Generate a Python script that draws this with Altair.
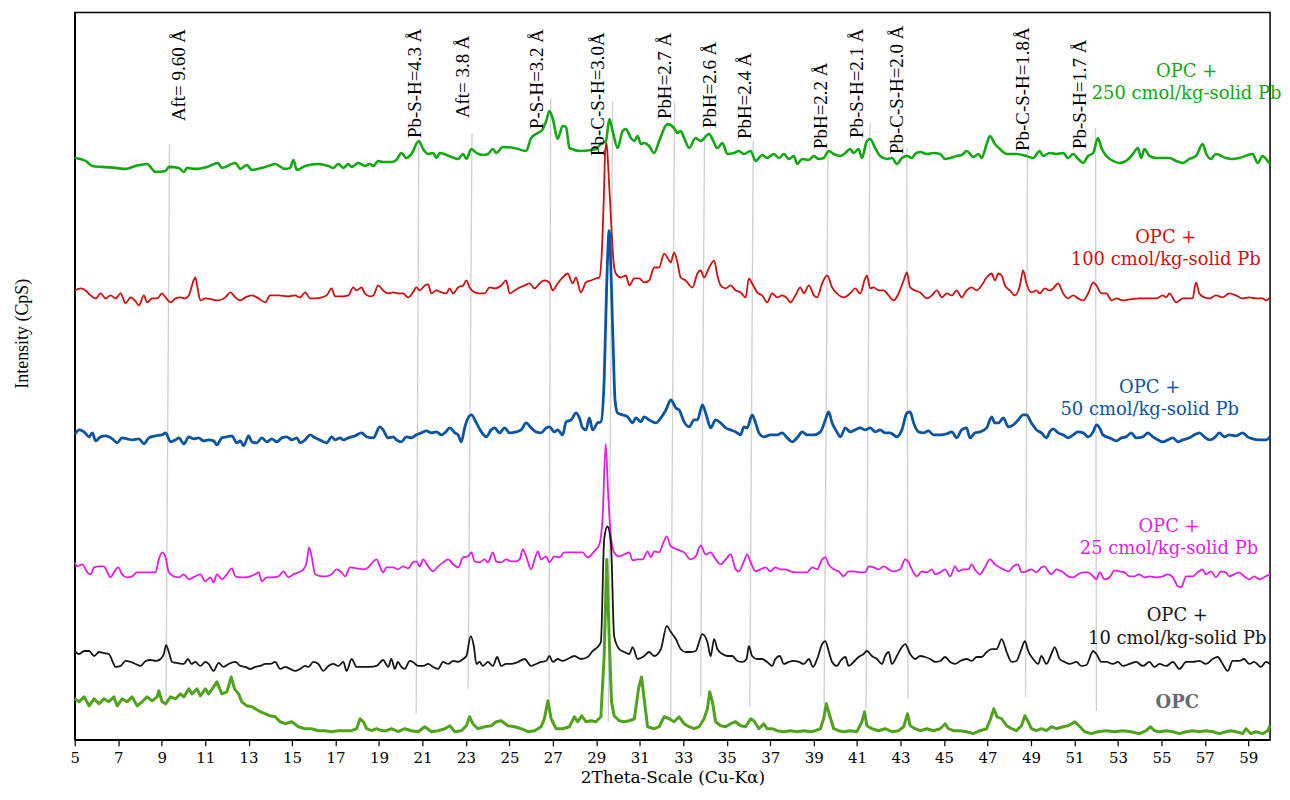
import altair as alt
import pandas as pd

SERIES = ["OPC + 250 cmol/kg-solid Pb", "OPC + 100 cmol/kg-solid Pb", "OPC + 50 cmol/kg-solid Pb",
          "OPC + 25 cmol/kg-solid Pb", "OPC + 10 cmol/kg-solid Pb", "OPC"]
COLORS = ["#12a812", "#cf1010", "#0b53a3", "#df1fdf", "#151515", "#4fa31c"]
WIDTHS = [2.6, 1.8, 2.8, 1.8, 1.8, 3.0]

# (2theta, intensity of the stacked trace)
PB250 = [(5.00,584),(5.50,581),(5.81,576),(6.27,575),(6.88,574),(7.34,573),(7.80,576),(8.33,578),(8.72,570),
 (9.18,571),(9.33,575),(9.79,574),(10.02,570),(10.17,574),(10.55,573),(11.09,575),(11.59,579),(11.77,574),
 (12.39,579),(12.62,573),(12.92,577),(13.15,572),(13.77,575),(14.22,578),(14.68,573),(14.91,574),(15.06,582),
 (15.22,572),(15.60,576),(16.21,578),(16.67,576),(16.90,574),(17.13,578),(17.36,574),(17.59,578),(17.74,575),
 (18.05,579),(18.35,576),(18.58,578),(18.74,576),(18.96,581),(19.19,580),(19.57,580),(19.80,582),(20.03,589),
 (20.26,584),(20.49,588),(20.83,601),(21.03,593),(21.26,588),(21.49,589),(21.64,584),(21.80,589),(22.33,585),
 (22.64,583),(22.87,588),(23.02,583),(23.25,593),(23.48,589),(23.78,587),(24.01,588),(24.24,593),(24.39,589),
 (24.70,595),(25.24,594),(25.77,591),(26.00,604),(26.31,609),(26.54,613),(26.69,621),(26.84,631),(27.00,623),
 (27.22,603),(27.45,616),(27.61,615),(27.76,594),(28.29,591),(28.75,592),(28.98,593),(29.21,598),(29.44,601),
 (29.60,623),(29.75,611),(29.98,594),(30.21,611),(30.36,613),(30.59,604),(30.75,601),(30.90,606),(31.05,598),
 (31.20,599),(31.43,596),(31.66,589),(31.89,601),(32.27,618),(32.58,614),(32.73,609),(32.88,611),(33.04,604),
 (33.27,594),(33.57,604),(33.80,601),(34.19,608),(34.34,603),(34.57,594),(34.80,599),(35.03,588),(35.33,589),
 (35.56,591),(35.79,588),(36.10,591),(36.33,581),(36.63,587),(36.86,584),(37.17,588),(37.40,584),(37.63,588),
 (37.86,583),(38.09,586),(38.24,578),(38.47,583),(38.78,582),(39.01,586),(39.23,583),(39.46,584),(39.69,591),
 (39.92,588),(40.23,586),(40.46,589),(40.68,593),(40.84,589),(41.07,593),(41.22,584),(41.45,601),(41.60,603),
 (41.83,594),(42.06,586),(42.37,583),(42.60,584),(42.83,578),(43.06,584),(43.29,586),(43.52,584),(43.67,588),
 (43.90,590),(44.21,588),(44.51,589),(44.82,588),(45.05,583),(45.28,584),(45.58,586),(45.81,587),(46.04,591),
 (46.35,585),(46.58,588),(46.73,584),(46.96,598),(47.11,606),(47.34,598),(47.57,593),(47.88,588),(48.33,588),
 (48.79,586),(49.10,584),(49.40,591),(49.56,586),(49.86,589),(50.17,588),(50.48,589),(50.71,584),(50.94,588),
 (51.17,583),(51.40,579),(51.63,586),(51.86,589),(52.08,604),(52.24,594),(52.47,586),(52.77,581),(53.07,579),
 (53.38,581),(53.69,588),(53.92,594),(54.07,584),(54.22,593),(54.45,586),(54.76,584),(55.37,584),(55.68,581),
 (55.98,579),(56.29,583),(56.59,586),(56.90,598),(57.05,589),(57.28,583),(57.51,588),(57.97,584),(58.28,583),
 (58.58,584),(59.20,588),(59.43,579),(59.66,586),(59.89,581),(60.00,578)]

PB100 = [(5.00,451),(5.28,453),(5.50,451),(5.73,446),(5.96,443),(6.19,448),(6.42,443),(6.65,446),(6.88,443),
 (7.11,448),(7.34,438),(7.57,444),(7.80,440),(7.95,436),(8.18,446),(8.33,439),(8.56,443),(8.79,443),(9.02,448),
 (9.18,444),(9.41,439),(9.64,443),(9.86,444),(10.06,443),(10.25,446),(10.47,461),(10.55,464),(10.67,451),
 (10.78,441),(11.01,443),(11.31,442),(11.62,441),(11.93,444),(12.16,449),(12.39,444),(12.62,441),(12.85,444),
 (13.15,446),(13.46,443),(13.77,439),(13.99,446),(14.38,446),(14.83,445),(15.14,446),(15.37,444),(15.60,449),
 (15.83,443),(16.06,443),(16.36,444),(16.59,446),(16.82,453),(16.98,445),(17.28,445),(17.59,446),(17.82,454),
 (17.97,451),(18.20,454),(18.35,448),(18.58,445),(18.74,446),(18.96,456),(19.19,451),(19.42,448),(19.65,449),
 (19.87,448),(20.10,448),(20.34,444),(20.56,449),(20.72,454),(20.88,451),(21.11,456),(21.26,457),(21.41,448),
 (21.64,451),(21.87,449),(22.10,448),(22.25,453),(22.41,448),(22.64,454),(22.87,456),(23.02,461),(23.17,454),
 (23.40,449),(23.63,448),(23.86,448),(24.09,454),(24.32,453),(24.62,456),(24.85,461),(25.01,448),(25.24,451),
 (25.47,454),(25.70,456),(25.93,458),(26.16,453),(26.39,458),(26.61,461),(26.84,459),(27.00,451),(27.22,458),
 (27.45,464),(27.68,468),(27.91,458),(28.06,464),(28.29,449),(28.52,459),(28.75,461),(28.98,463),(29.14,464),
 (29.24,484),(29.34,541),(29.41,591),(29.47,599),(29.55,574),(29.67,524),(29.80,478),(29.90,468),(30.13,464),
 (30.36,466),(30.52,456),(30.75,463),(30.98,463),(31.20,459),(31.43,461),(31.66,474),(31.89,474),(32.12,488),
 (32.27,484),(32.42,479),(32.58,489),(32.73,479),(32.88,464),(33.11,461),(33.42,454),(33.65,468),(33.80,471),
 (33.96,464),(34.19,474),(34.42,481),(34.57,466),(34.72,456),(34.95,453),(35.18,456),(35.41,451),(35.64,449),
 (35.87,444),(36.02,463),(36.17,458),(36.40,449),(36.63,446),(36.86,439),(37.09,448),(37.32,444),(37.55,446),
 (37.78,443),(37.93,439),(38.16,446),(38.39,454),(38.55,448),(38.78,456),(39.01,446),(39.16,444),(39.39,458),
 (39.62,466),(39.85,454),(40.07,448),(40.38,444),(40.68,448),(40.91,453),(41.14,448),(41.37,463),(41.45,466),
 (41.60,453),(41.76,454),(41.99,451),(42.22,451),(42.45,446),(42.68,441),(42.91,448),(43.14,461),(43.29,469),
 (43.44,454),(43.67,451),(43.90,449),(44.21,443),(44.44,446),(44.67,451),(44.90,444),(45.13,448),(45.36,446),
 (45.58,451),(45.81,444),(46.04,451),(46.27,454),(46.50,451),(46.73,456),(46.96,464),(47.19,468),(47.34,461),
 (47.50,468),(47.65,466),(47.80,456),(48.03,451),(48.26,446),(48.49,456),(48.64,471),(48.79,458),(49.02,449),
 (49.25,451),(49.40,448),(49.63,453),(49.86,451),(50.02,453),(50.25,458),(50.48,448),(50.71,443),(50.94,446),
 (51.17,443),(51.40,441),(51.63,448),(51.86,459),(52.01,456),(52.24,448),(52.47,448),(52.70,441),(52.93,443),
 (53.23,441),(53.54,442),(54.00,443),(54.45,443),(54.76,443),(55.07,446),(55.22,444),(55.37,448),(55.68,439),
 (55.98,443),(56.44,443),(56.59,459),(56.75,448),(56.98,444),(57.21,443),(57.51,446),(57.82,444),(58.12,448),
 (58.43,446),(58.73,443),(59.04,444),(59.35,443),(59.66,443),(59.81,441),(60.00,444)]

PB50 = [(5.00,306),(5.20,311),(5.43,309),(5.66,304),(5.81,308),(5.96,300),(6.19,304),(6.42,305),(6.73,302),
 (6.95,298),(7.18,303),(7.41,302),(7.64,301),(7.95,302),(8.18,297),(8.41,303),(8.72,305),(9.02,306),(9.18,308),
 (9.41,299),(9.64,301),(9.79,303),(10.02,297),(10.25,304),(10.47,302),(10.70,303),(10.93,300),(11.16,301),
 (11.39,300),(11.54,296),(11.77,303),(12.00,304),(12.23,305),(12.46,298),(12.62,300),(12.77,295),(13.00,305),
 (13.15,299),(13.38,298),(13.61,303),(13.84,299),(14.07,302),(14.30,299),(14.53,303),(14.76,304),(14.99,301),
 (15.22,303),(15.37,298),(15.60,301),(15.83,306),(16.06,303),(16.36,300),(16.59,298),(16.82,304),(16.98,301),
 (17.21,303),(17.36,301),(17.59,303),(17.90,305),(18.20,308),(18.43,304),(18.74,303),(19.04,314),(19.19,311),
 (19.42,303),(19.65,304),(19.80,301),(20.03,299),(20.26,304),(20.49,303),(20.72,306),(20.95,308),(21.18,310),
 (21.41,308),(21.64,309),(21.87,306),(22.03,308),(22.26,313),(22.49,308),(22.64,306),(22.79,299),(22.94,313),
 (23.10,323),(23.25,326),(23.48,318),(23.71,309),(23.94,304),(24.16,311),(24.32,313),(24.55,308),(24.78,313),
 (25.01,308),(25.31,309),(25.54,311),(25.77,318),(26.00,313),(26.23,309),(26.46,308),(26.69,313),(26.84,314),
 (27.07,309),(27.22,311),(27.45,306),(27.61,319),(27.84,321),(28.07,328),(28.22,323),(28.37,313),(28.52,311),
 (28.68,323),(28.83,311),(29.06,318),(29.21,319),(29.36,361),(29.47,451),(29.59,511),(29.70,451),(29.82,361),
 (29.86,341),(29.98,328),(30.21,326),(30.44,324),(30.67,318),(30.82,323),(31.05,319),(31.20,324),(31.43,321),
 (31.74,318),(31.97,323),(32.20,331),(32.43,341),(32.66,333),(32.81,331),(33.04,319),(33.27,314),(33.50,321),
 (33.65,321),(33.88,336),(34.03,328),(34.26,313),(34.49,321),(34.72,318),(34.95,313),(35.18,311),(35.41,309),
 (35.64,306),(35.79,314),(35.94,313),(36.17,326),(36.33,318),(36.48,308),(36.71,304),(37.01,306),(37.32,306),
 (37.55,308),(37.78,303),(38.01,299),(38.24,303),(38.47,309),(38.70,306),(39.01,306),(39.31,309),(39.54,321),
 (39.69,329),(39.85,318),(40.07,309),(40.23,304),(40.46,313),(40.68,309),(40.91,311),(41.14,313),(41.37,311),
 (41.60,313),(41.83,309),(42.06,311),(42.29,308),(42.52,308),(42.83,304),(43.06,311),(43.29,328),(43.44,329),
 (43.60,318),(43.83,309),(44.05,308),(44.28,310),(44.51,306),(44.82,306),(45.12,307),(45.36,309),(45.58,303),
 (45.81,311),(46.04,313),(46.19,303),(46.42,308),(46.65,309),(46.96,313),(47.19,324),(47.34,318),(47.50,318),
 (47.73,323),(47.96,314),(48.19,316),(48.41,321),(48.64,326),(48.79,326),(49.02,318),(49.25,311),(49.48,308),
 (49.71,303),(49.86,309),(50.02,312),(50.25,308),(50.48,306),(50.71,303),(50.94,306),(51.17,309),(51.40,308),
 (51.63,304),(51.86,309),(52.01,316),(52.16,313),(52.31,306),(52.62,303),(52.93,300),(53.16,303),(53.38,304),
 (53.61,308),(53.84,303),(54.15,304),(54.38,308),(54.61,304),(54.84,301),(55.07,299),(55.30,301),(55.53,303),
 (55.76,299),(55.98,301),(56.29,303),(56.52,306),(56.75,308),(56.98,304),(57.21,301),(57.44,303),(57.67,308),
 (57.90,304),(58.12,306),(58.43,305),(58.74,308),(58.97,304),(59.20,302),(59.51,301),(59.81,301),(60.00,304)]

PB25 = [(5.00,178),(5.12,174),(5.35,176),(5.58,168),(5.73,166),(5.89,173),(6.12,174),(6.34,174),(6.50,168),
 (6.65,163),(6.80,168),(7.00,173),(7.18,166),(7.41,163),(7.64,164),(7.87,168),(8.18,168),(8.49,168),(8.72,168),
 (8.87,181),(9.02,188),(9.18,183),(9.33,168),(9.56,164),(9.79,163),(10.02,166),(10.25,161),(10.55,164),
 (10.78,166),(11.01,159),(11.24,163),(11.39,158),(11.54,166),(11.77,161),(12.00,166),(12.23,172),(12.39,164),
 (12.62,163),(12.85,163),(13.08,164),(13.31,166),(13.46,168),(13.61,159),(13.84,163),(14.07,163),(14.38,164),
 (14.61,169),(14.83,163),(15.06,166),(15.29,168),(15.52,171),(15.67,178),(15.78,193),(15.90,184),(16.06,166),
 (16.36,164),(16.59,164),(16.82,166),(17.05,171),(17.28,168),(17.44,164),(17.67,173),(17.97,172),(18.28,171),
 (18.51,173),(18.74,179),(18.89,181),(19.04,174),(19.19,168),(19.35,173),(19.65,173),(19.87,171),(20.10,174),
 (20.34,172),(20.56,178),(20.72,179),(20.88,174),(21.03,181),(21.26,174),(21.49,169),(21.72,174),(21.95,178),
 (22.18,181),(22.41,176),(22.64,173),(22.87,183),(23.10,184),(23.25,188),(23.40,179),(23.63,178),(23.86,181),
 (24.01,178),(24.24,188),(24.39,179),(24.62,178),(24.85,181),(25.08,179),(25.31,179),(25.47,181),(25.62,191),
 (25.77,184),(26.00,171),(26.16,181),(26.31,189),(26.46,181),(26.69,184),(26.84,178),(27.07,184),(27.30,183),
 (27.53,188),(27.84,188),(28.14,188),(28.37,188),(28.60,183),(28.90,189),(29.14,196),(29.29,224),(29.43,297),
 (29.55,244),(29.67,204),(29.82,188),(30.05,184),(30.28,186),(30.52,188),(30.67,180),(30.90,181),(31.13,181),
 (31.36,189),(31.51,183),(31.66,189),(31.89,188),(32.09,198),(32.24,204),(32.43,194),(32.73,191),(33.04,188),
 (33.34,181),(33.57,184),(33.80,195),(34.03,186),(34.26,188),(34.49,181),(34.72,176),(34.95,181),(35.18,186),
 (35.41,171),(35.56,169),(35.79,179),(35.94,186),(36.10,178),(36.33,169),(36.56,171),(36.79,173),(37.01,169),
 (37.24,173),(37.47,171),(37.70,171),(37.93,169),(38.16,168),(38.47,168),(38.70,168),(38.93,173),(39.16,171),
 (39.39,181),(39.54,183),(39.69,176),(39.92,171),(40.15,169),(40.38,164),(40.61,169),(40.84,169),(41.14,168),
 (41.37,168),(41.53,174),(41.76,173),(41.99,171),(42.22,174),(42.45,171),(42.68,169),(42.98,171),(43.21,181),
 (43.37,178),(43.52,171),(43.75,164),(43.98,169),(44.21,168),(44.44,171),(44.59,166),(44.82,168),(45.05,171),
 (45.28,164),(45.51,174),(45.66,169),(45.89,171),(46.12,171),(46.27,176),(46.42,171),(46.65,166),(46.88,173),
 (47.11,181),(47.34,176),(47.73,171),(47.96,169),(48.19,174),(48.41,176),(48.56,168),(48.79,169),(49.02,171),
 (49.25,168),(49.48,173),(49.63,174),(49.79,169),(49.94,166),(50.17,171),(50.48,168),(50.71,164),(50.94,163),
 (51.17,166),(51.40,168),(51.63,168),(51.86,164),(52.01,161),(52.16,168),(52.39,161),(52.62,163),(52.85,170),
 (53.07,169),(53.30,168),(53.53,164),(53.76,164),(53.99,166),(54.22,163),(54.45,164),(54.76,163),(55.07,164),
 (55.30,166),(55.53,163),(55.76,154),(55.91,153),(56.14,164),(56.44,164),(56.67,168),(56.90,171),(57.05,166),
 (57.28,169),(57.51,163),(57.74,169),(57.97,168),(58.12,164),(58.35,166),(58.58,168),(58.81,164),(59.04,161),
 (59.27,164),(59.51,161),(59.81,164),(60.00,166)]

PB10 = [(5.00,89),(5.20,86),(5.43,89),(5.66,89),(5.89,84),(6.12,88),(6.34,87),(6.57,86),(6.73,79),(6.88,73),
 (7.11,74),(7.34,79),(7.57,78),(7.80,76),(8.03,74),(8.26,79),(8.49,80),(8.72,79),(8.95,81),(9.10,86),(9.20,95),
 (9.33,88),(9.48,78),(9.71,77),(10.02,76),(10.21,81),(10.37,76),(10.55,78),(10.78,74),(11.01,78),(11.16,76),
 (11.39,69),(11.62,77),(11.85,73),(12.08,76),(12.39,78),(12.62,74),(12.85,73),(13.08,71),(13.31,73),(13.54,74),
 (13.77,76),(13.99,76),(14.22,78),(14.45,71),(14.68,73),(14.91,71),(15.14,69),(15.37,71),(15.60,74),(15.75,73),
 (15.98,78),(16.21,76),(16.44,69),(16.67,74),(16.90,76),(17.13,74),(17.36,78),(17.51,69),(17.74,81),(17.97,73),
 (18.28,73),(18.58,73),(18.89,74),(19.19,80),(19.42,73),(19.57,81),(19.73,71),(19.87,78),(20.03,73),(20.18,71),
 (20.42,79),(20.56,78),(20.80,74),(21.03,74),(21.26,76),(21.49,73),(21.72,71),(21.95,78),(22.18,76),(22.41,79),
 (22.64,78),(22.87,81),(23.02,84),(23.22,104),(23.37,93),(23.48,76),(23.63,78),(23.78,74),(24.01,78),(24.24,74),
 (24.44,83),(24.62,74),(24.85,76),(25.08,76),(25.39,78),(25.70,81),(26.00,74),(26.23,76),(26.46,78),(26.69,79),
 (26.84,84),(27.00,78),(27.22,81),(27.45,79),(27.68,81),(27.99,84),(28.29,81),(28.60,83),(28.83,89),(29.06,93),
 (29.21,98),(29.36,201),(29.51,214),(29.67,198),(29.82,104),(30.05,91),(30.28,88),(30.52,86),(30.67,93),
 (30.90,81),(31.20,84),(31.43,88),(31.66,84),(31.97,91),(32.24,114),(32.43,108),(32.66,101),(32.88,91),
 (33.11,88),(33.34,88),(33.57,89),(33.88,106),(34.11,98),(34.26,84),(34.42,101),(34.57,91),(34.80,86),
 (35.03,84),(35.26,84),(35.49,79),(35.72,78),(35.91,81),(36.02,94),(36.17,84),(36.40,81),(36.63,81),(36.86,78),
 (37.09,74),(37.24,81),(37.44,84),(37.63,76),(37.86,78),(38.09,79),(38.32,78),(38.55,76),(38.78,81),(38.97,73),
 (39.16,81),(39.39,96),(39.54,99),(39.69,89),(39.85,78),(40.07,74),(40.23,79),(40.46,83),(40.61,74),(40.84,78),
 (41.07,83),(41.30,86),(41.45,89),(41.68,84),(41.91,81),(42.14,76),(42.29,84),(42.45,88),(42.60,76),(42.83,84),
 (43.06,93),(43.21,96),(43.44,86),(43.67,81),(43.90,84),(44.13,83),(44.36,81),(44.59,78),(44.82,79),(45.05,83),
 (45.28,78),(45.51,76),(45.74,79),(46.04,81),(46.27,79),(46.50,83),(46.73,83),(46.96,88),(47.19,91),(47.42,91),
 (47.65,101),(47.88,88),(48.11,78),(48.33,79),(48.56,91),(48.72,99),(48.87,89),(49.10,81),(49.33,76),(49.48,84),
 (49.71,76),(49.94,86),(50.09,93),(50.32,81),(50.55,78),(50.78,76),(51.09,78),(51.32,74),(51.55,75),(51.86,89),
 (52.01,86),(52.24,78),(52.47,78),(52.77,76),(53.00,78),(53.23,74),(53.54,76),(53.84,78),(54.15,74),(54.45,78),
 (54.68,73),(54.91,76),(55.22,74),(55.53,78),(55.83,71),(56.14,78),(56.44,78),(56.75,79),(57.05,76),(57.36,81),
 (57.59,83),(57.82,76),(58.05,69),(58.28,79),(58.58,79),(58.81,81),(59.04,76),(59.27,78),(59.58,73),(59.81,78),
 (60.00,76)]

OPC = [(5.00,41),(5.20,38),(5.43,43),(5.66,34),(5.89,41),(6.12,36),(6.34,41),(6.57,38),(6.80,43),(6.95,34),
 (7.18,41),(7.41,38),(7.64,43),(7.87,34),(8.10,38),(8.33,43),(8.56,39),(8.79,43),(8.87,49),(9.02,38),(9.18,36),
 (9.41,43),(9.64,41),(9.86,46),(10.02,43),(10.25,51),(10.40,46),(10.63,51),(10.78,44),(11.01,51),(11.16,46),
 (11.39,53),(11.54,58),(11.77,46),(12.00,48),(12.20,63),(12.35,51),(12.54,46),(12.69,38),(12.92,34),(13.15,33),
 (13.46,29),(13.77,26),(13.99,24),(14.22,23),(14.45,18),(14.68,16),(14.99,18),(15.29,13),(15.60,11),(15.90,11),
 (16.21,9),(16.52,9),(16.82,8),(17.13,9),(17.44,9),(17.74,9),(17.97,11),(18.13,21),(18.28,18),(18.43,11),
 (18.66,9),(18.89,11),(19.12,9),(19.35,9),(19.57,11),(19.88,8),(20.19,11),(20.49,9),(20.80,8),(21.11,13),
 (21.41,8),(21.72,9),(22.03,11),(22.26,14),(22.49,8),(22.79,9),(23.02,14),(23.17,23),(23.32,16),(23.55,11),
 (23.86,13),(24.16,14),(24.39,18),(24.62,19),(24.93,14),(25.24,13),(25.54,11),(25.85,8),(26.16,9),(26.46,13),
 (26.61,21),(26.77,39),(26.92,21),(27.15,11),(27.45,11),(27.76,13),(27.99,23),(28.14,18),(28.33,24),(28.52,18),
 (28.75,19),(28.98,18),(29.21,23),(29.36,84),(29.48,181),(29.59,104),(29.70,38),(29.82,24),(30.05,19),(30.28,18),
 (30.52,19),(30.75,21),(30.94,51),(31.08,63),(31.20,41),(31.36,13),(31.66,11),(31.89,13),(32.12,23),(32.35,21),
 (32.58,18),(32.81,23),(33.04,16),(33.27,13),(33.50,11),(33.73,13),(33.96,21),(34.11,31),(34.22,48),(34.34,38),
 (34.49,18),(34.72,14),(34.95,13),(35.18,16),(35.41,18),(35.64,14),(35.87,13),(36.10,21),(36.25,19),(36.48,11),
 (36.71,16),(36.86,11),(37.09,11),(37.32,9),(37.63,8),(37.93,9),(38.24,8),(38.55,9),(38.85,8),(39.08,9),
 (39.31,11),(39.46,21),(39.58,36),(39.74,24),(39.92,11),(40.15,9),(40.38,8),(40.68,9),(40.99,8),(41.22,18),
 (41.34,28),(41.45,14),(41.68,11),(41.99,9),(42.29,11),(42.60,8),(42.91,9),(43.14,13),(43.32,26),(43.44,14),
 (43.67,11),(43.90,9),(44.21,11),(44.51,9),(44.82,11),(45.05,16),(45.20,11),(45.43,9),(45.74,9),(46.04,8),
 (46.35,6),(46.65,9),(46.96,11),(47.14,21),(47.29,31),(47.44,23),(47.65,21),(47.88,14),(48.11,11),(48.33,9),
 (48.56,14),(48.72,24),(48.87,18),(49.02,11),(49.25,9),(49.48,11),(49.71,9),(49.94,13),(50.17,11),(50.48,13),
 (50.71,14),(51.02,18),(51.25,13),(51.47,8),(51.78,6),(52.08,8),(52.47,9),(52.85,8),(53.23,9),(53.61,8),
 (53.99,6),(54.30,9),(54.50,13),(54.68,9),(54.91,8),(55.22,9),(55.53,8),(55.83,6),(56.14,8),(56.44,9),(56.75,8),
 (57.05,9),(57.36,8),(57.67,6),(57.97,8),(58.20,9),(58.43,8),(58.74,6),(58.89,11),(59.12,6),(59.35,8),(59.66,6),
 (59.89,9),(60.00,14)]

PEAK_LABELS = ["Aft= 9.60 Å", "Pb-S-H=4.3 Å", "Aft= 3.8 Å", "P-S-H=3.2 Å", "Pb-C-S-H=3.0Å", "PbH=2.7 Å",
               "PbH=2.6 Å", "PbH=2.4 Å", "PbH=2.2 Å", "Pb-S-H=2.1 Å", "Pb-C-S-H=2.0 Å", "Pb-C-S-H=1.8Å",
               "Pb-S-H=1.7 Å"]
PEAK_TEXT_THETA = [9.82, 20.65, 22.87, 26.28, 29.06, 32.14, 34.25, 35.85, 39.34, 41.00, 42.83, 48.64, 51.26]
PEAK_TEXT_BASE = [621, 604, 624, 613, 586, 623, 614, 603, 593, 604, 588, 591, 593]
LINE_TOP_THETA = [9.36, 20.83, 23.28, 26.90, 29.75, 32.60, 33.98, 36.22, 39.66, 41.59, 43.29, 48.84, 51.97]
LINE_TOP_I = [598, 601, 609, 644, 641, 641, 608, 601, 591, 619, 594, 591, 614]
LINE_BOT_THETA = [9.20, 20.71, 23.10, 26.82, 29.55, 32.42, 33.80, 36.06, 39.48, 41.41, 43.34, 48.75, 52.01]
LINE_BOT_I = [40, 26, 51, 36, 18, 21, 43, 33, 36, 31, 41, 43, 29]

SERIES_LINES = [("OPC +", "250 cmol/kg-solid Pb"), ("OPC +", "100 cmol/kg-solid Pb"),
                ("OPC  +", "50 cmol/kg-solid Pb"), ("OPC +", "25 cmol/kg-solid Pb"),
                ("OPC +", "10 cmol/kg-solid Pb")]
SERIES_LABEL_THETA = [56.16, 55.20, 54.46, 55.35, 55.73]
SERIES_LABEL_I = [(670, 648), (504, 482), (353, 331), (213, 191), (124, 101)]
OPC_LABEL = ("OPC", 55.73, 37)

TICKS = list(range(5, 60, 2))

# ---------- build tables ----------
SERIES_DATA = [PB250, PB100, PB50, PB25, PB10, OPC]

peaks = pd.DataFrame({"label": PEAK_LABELS, "tt": PEAK_TEXT_THETA, "ti": PEAK_TEXT_BASE,
                      "x1": LINE_TOP_THETA, "y1": LINE_TOP_I, "x2": LINE_BOT_THETA, "y2": LINE_BOT_I})

lab_rows = []
for name, (l1, l2), t, (i1, i2) in zip(SERIES[:5], SERIES_LINES, SERIES_LABEL_THETA, SERIES_LABEL_I):
    lab_rows.append({"series": name, "text": l1, "theta": t, "intensity": i1})
    lab_rows.append({"series": name, "text": l2, "theta": t, "intensity": i2})
labels = pd.DataFrame(lab_rows)
opc_lab = pd.DataFrame([{"text": OPC_LABEL[0], "theta": OPC_LABEL[1], "intensity": OPC_LABEL[2]}])

SERIF = "Liberation Serif"
WIDE = "DejaVu Serif"

xscale = alt.Scale(domain=[5, 60], nice=False, zero=False)
yscale = alt.Scale(domain=[0, 730], nice=False, zero=False)
cscale = alt.Scale(domain=SERIES, range=COLORS)

x_axis = alt.Axis(
    values=TICKS, title="2Theta-Scale (Cu-Kα)", grid=False, tickSize=6, tickColor="black",
    tickWidth=1.2, domainColor="black", domainWidth=1.5, labelFont=WIDE, labelFontSize=15,
    labelColor="black", labelPadding=5, titleFont=WIDE, titleFontSize=17, titleFontWeight="normal",
    titleColor="black", titlePadding=4, labelFlush=False)
y_axis = alt.Axis(
    labels=False, ticks=False, grid=False, title="Intensity (CpS)", domainColor="black",
    domainWidth=1.5, titleFont=SERIF, titleFontSize=18, titleFontWeight="normal", titleColor="black",
    titleX=-43, titleY=322)

rules = alt.Chart(peaks).mark_rule(color="#cfcfcf", strokeWidth=1.3).encode(
    x=alt.X("x1:Q", scale=xscale, axis=x_axis), y=alt.Y("y1:Q", scale=yscale, axis=y_axis),
    x2="x2:Q", y2="y2:Q")

line_layers = []
for i, (name, pts) in enumerate(zip(SERIES, SERIES_DATA)):
    d = pd.DataFrame({"series": name, "theta": [p[0] for p in pts], "intensity": [p[1] for p in pts]})
    interp = "linear" if name == "OPC" else "monotone"
    line_layers.append(
        alt.Chart(d).mark_line(interpolate=interp, strokeWidth=WIDTHS[i], strokeJoin="round").encode(
            x=alt.X("theta:Q", scale=xscale, axis=x_axis),
            y=alt.Y("intensity:Q", scale=yscale, axis=y_axis),
            color=alt.Color("series:N", scale=cscale, legend=None)))

peak_text = alt.Chart(peaks).mark_text(angle=270, align="left", baseline="middle", font=SERIF,
                                       fontSize=19, color="black").encode(
    x=alt.X("tt:Q", scale=xscale, axis=x_axis), y=alt.Y("ti:Q", scale=yscale, axis=y_axis), text="label:N")

series_text = alt.Chart(labels).mark_text(font=WIDE, fontSize=18, align="center", baseline="middle").encode(
    x=alt.X("theta:Q", scale=xscale, axis=x_axis), y=alt.Y("intensity:Q", scale=yscale, axis=y_axis),
    text="text:N", color=alt.Color("series:N", scale=cscale, legend=None))

opc_text = alt.Chart(opc_lab).mark_text(font=WIDE, fontSize=18, fontWeight="bold", color="#6a6a6a",
                                        align="center", baseline="middle").encode(
    x=alt.X("theta:Q", scale=xscale, axis=x_axis), y=alt.Y("intensity:Q", scale=yscale, axis=y_axis),
    text="text:N")

chart = alt.layer(rules, *line_layers, peak_text, series_text, opc_text).properties(
    width=1200, height=730,
    autosize=alt.AutoSizeParams(type="none"),
    padding={"left": 67, "top": 3, "right": 12, "bottom": 51},
    background="white",
).configure_view(stroke="black", strokeWidth=1.5)

chart.save("out.html", embed_options={"renderer": "svg", "actions": False})
